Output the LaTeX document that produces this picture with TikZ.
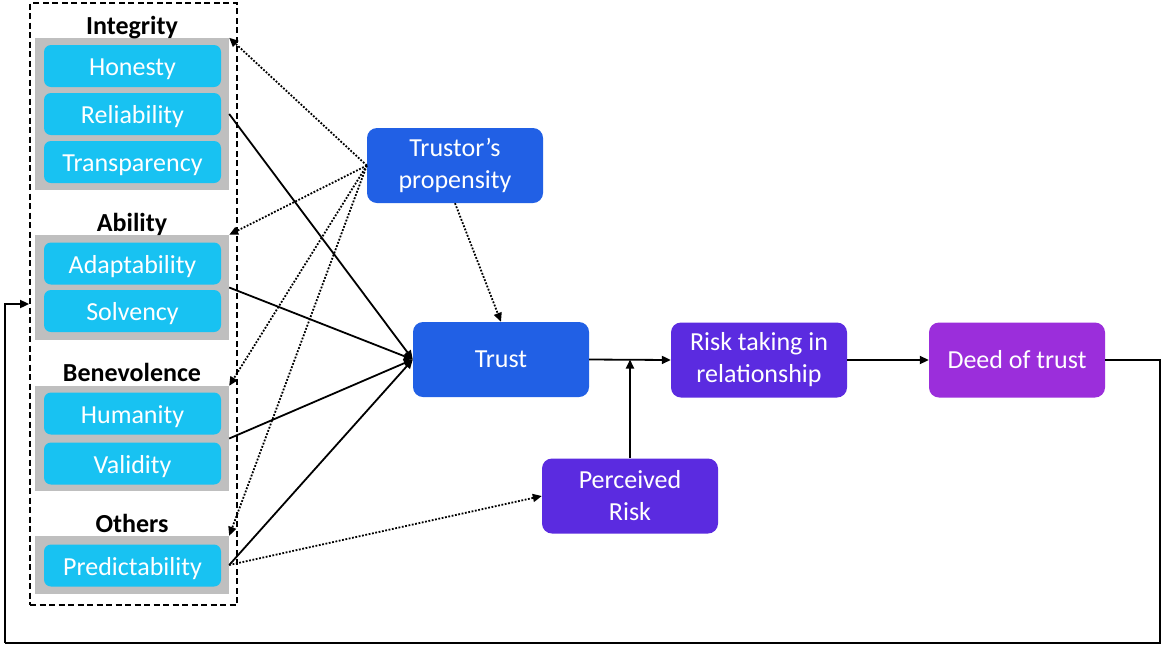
\documentclass[tikz,border=0pt]{standalone}
\usepackage{fontspec}
\setmainfont{Carlito}
\usetikzlibrary{arrows.meta}
\definecolor{cyanbox}{RGB}{24,194,242}
\definecolor{greybox}{RGB}{191,191,191}
\definecolor{bluebox}{RGB}{33,96,229}
\definecolor{purpbox}{RGB}{91,43,224}
\definecolor{magbox}{RGB}{155,46,219}
\newcommand{\fsz}{\fontsize{26}{32}\selectfont}
\begin{document}
\begin{tikzpicture}[x=1pt,y=-1pt,
  greyc/.style={fill=greybox, draw=none, minimum width=194pt, inner sep=0pt},
  item/.style={fill=cyanbox, rounded corners=7pt, minimum width=177pt, minimum height=42pt, inner sep=0pt, text=white, font=\fsz, text height=19pt, text depth=0pt},
  bigbox/.style={rounded corners=10pt, minimum width=176pt, minimum height=75pt, inner sep=0pt, text=white, font=\fsz, align=center},
  grplabel/.style={font=\fsz\bfseries, inner sep=0pt, text height=19pt, text depth=0pt},
  sol/.style={-{Triangle[length=9pt,width=8pt]}, line width=1.8pt},
  dotarr/.style={-{Triangle[length=9pt,width=8pt]}, line width=1.8pt, dash pattern=on 1.8pt off 1.6pt},
  plain/.style={line width=1.8pt}
]
\useasboundingbox (0,0) rectangle (1161,646);
\fill[white] (0,0) rectangle (1161,646);

% frame
\node[draw, dash pattern=on 6pt off 3.5pt, line width=1.8pt, minimum width=207pt, minimum height=602pt, inner sep=0pt] (frame) at (133.5,304) {};

% grey groups
\node[greyc, minimum height=152pt] (g1) at (132,114) {};
\node[greyc, minimum height=105pt] (g2) at (132,287.5) {};
\node[greyc, minimum height=105pt] (g3) at (132,438.5) {};
\node[greyc, minimum height=58pt] (g4) at (132,565) {};

% labels
\node[grplabel] (l1) at (132,25) {Integrity};
\node[grplabel] (l2) at (132,222) {Ability};
\node[grplabel] (l3) at (132,372) {Benevolence};
\node[grplabel] (l4) at (132,523) {Others};

% items
\node[item] (honesty) at (132.5,66) {Honesty};
\node[item] (reliab) at (132.5,114) {Reliability};
\node[item] (transp) at (132.5,162) {Transparency};
\node[item] (adapt) at (132.5,263.5) {Adaptability};
\node[item] (solv) at (132.5,311) {Solvency};
\node[item] (human) at (132.5,413.5) {Humanity};
\node[item] (valid) at (132.5,463.5) {Validity};
\node[item] (pred) at (132.5,565.5) {Predictability};

% main boxes
\node[bigbox, fill=bluebox] (prop) at (455,165.5) {Trustor’s\\propensity};
\node[bigbox, fill=bluebox] (trust) at (501,359.5) {Trust};
\node[bigbox, fill=purpbox] (risk) at (759,360) {Risk taking in\\relationship};
\node[bigbox, fill=magbox] (deed) at (1017,360) {Deed of trust};
\node[bigbox, fill=purpbox] (perc) at (630,496) {Perceived\\Risk};

% solid arrows into trust
\draw[sol] (g1.east) -- (trust.west);
\draw[sol] (g2.east) -- (trust.west);
\draw[sol] (g3.east) -- (trust.west);
\draw[sol] (g4.east) -- (trust.west);

% dotted arrows from propensity
\draw[dotarr] (prop.west) -- (g1.north east);
\draw[dotarr] (prop.west) -- (g2.north east);
\draw[dotarr] (prop.west) -- (g3.north east);
\draw[dotarr] (prop.west) -- (g4.north east);
\draw[dotarr] (prop.south) -- (trust.north);
\draw[dotarr] (g4.east) -- (perc.west);

% flow
\draw[sol] (trust.east) -- (risk.west);
\draw[sol] (perc.north) -- (perc.north |- trust.east);
\draw[sol] (risk.east) -- (deed.west);

% feedback
\coordinate (fbR) at (1160,643);
\coordinate (fbL) at (5,643);
\draw[plain] (deed.east) -| (fbR) -- (fbL);
\draw[sol] (fbL) |- (frame.west);
\end{tikzpicture}
\end{document}
